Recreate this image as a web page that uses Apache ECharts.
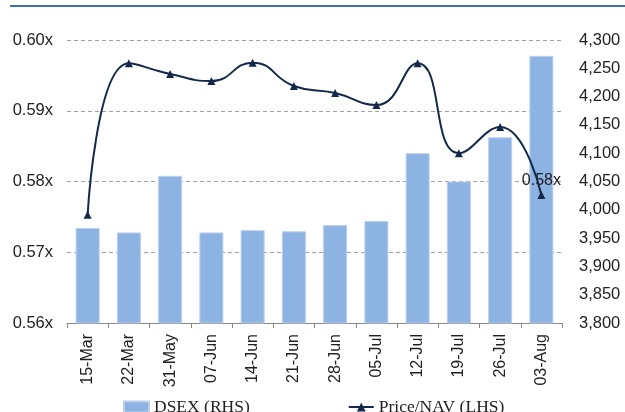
<!DOCTYPE html>
<html>
<head>
<meta charset="utf-8">
<script src="https://cdn.jsdelivr.net/npm/echarts@6/dist/echarts.min.js"></script>
<style>
  html, body { margin: 0; padding: 0; background: #fff; }
  #chart { width: 625px; height: 412px; }
</style>
</head>
<body>
<div id="chart"></div>
<script>
const dates = ['15-Mar', '22-Mar', '31-May', '07-Jun', '14-Jun', '21-Jun', '28-Jun', '05-Jul', '12-Jul', '19-Jul', '26-Jul', '03-Aug'];
const dsex = [3968, 3960, 4060, 3960, 3964, 3962, 3973, 3980, 4100, 4050, 4128, 4272];
const priceNav = [0.5753, 0.5967, 0.5952, 0.5942, 0.5968, 0.5935, 0.5925, 0.5908, 0.5967, 0.5840, 0.5877, 0.5781];

const chart = echarts.init(document.getElementById('chart'));

const lineData = priceNav.map((v, i) => {
  if (i === priceNav.length - 1) {
    return {
      value: v,
      label: {
        show: true,
        position: 'top',
        offset: [0, 3],
        formatter: (p) => p.value.toFixed(2) + 'x',
        color: '#222',
        fontSize: 16,
        fontFamily: 'Liberation Sans'
      }
    };
  }
  return v;
});

const option = {
  animation: false,
  graphic: [
    {
      type: 'line',
      shape: { x1: 10, y1: 6, x2: 625, y2: 6 },
      style: { stroke: '#3a6fb0', lineWidth: 2 }
    }
  ],
  grid: { left: 67, right: 63, top: 40, bottom: 89 },
  legend: {
    left: 118,
    top: 393,
    itemGap: 98,
    itemWidth: 25,
    itemHeight: 11,
    textStyle: { fontFamily: 'Liberation Serif', fontSize: 17.5, color: '#222' },
    data: [
      { name: 'DSEX (RHS)', icon: 'rect' },
      { name: 'Price/NAV (LHS)' }
    ]
  },
  xAxis: {
    type: 'category',
    data: dates,
    axisLine: { lineStyle: { color: '#888' } },
    axisTick: { show: true, length: 5, lineStyle: { color: '#888' } },
    axisLabel: {
      rotate: 90,
      color: '#222',
      fontSize: 16,
      fontFamily: 'Liberation Sans',
      margin: 11
    }
  },
  yAxis: [
    {
      type: 'value',
      min: 0.56,
      max: 0.60,
      interval: 0.01,
      axisLine: { show: false },
      axisTick: { show: false },
      axisLabel: {
        color: '#222',
        fontSize: 16.5,
        fontFamily: 'Liberation Sans',
        margin: 14,
        formatter: (v) => v.toFixed(2) + 'x'
      },
      splitLine: { lineStyle: { color: '#a0a0a0', type: [4, 3] } }
    },
    {
      type: 'value',
      min: 3800,
      max: 4300,
      interval: 50,
      axisLine: { show: false },
      axisTick: { show: false },
      axisLabel: {
        color: '#222',
        fontSize: 16.5,
        fontFamily: 'Liberation Sans',
        margin: 17,
        formatter: (v) => v.toLocaleString('en-US')
      },
      splitLine: { show: false }
    }
  ],
  series: [
    {
      name: 'DSEX (RHS)',
      type: 'bar',
      yAxisIndex: 1,
      data: dsex,
      barWidth: 24,
      itemStyle: { color: '#8db3e2', borderColor: '#b8cfee', borderWidth: 1 }
    },
    {
      name: 'Price/NAV (LHS)',
      type: 'line',
      yAxisIndex: 0,
      data: lineData,
      smooth: 0.5,
      symbol: 'triangle',
      symbolSize: 8,
      lineStyle: { color: '#14294a', width: 2 },
      itemStyle: { color: '#14294a' },
      z: 5
    }
  ]
};

chart.setOption(option);
</script>
</body>
</html>
